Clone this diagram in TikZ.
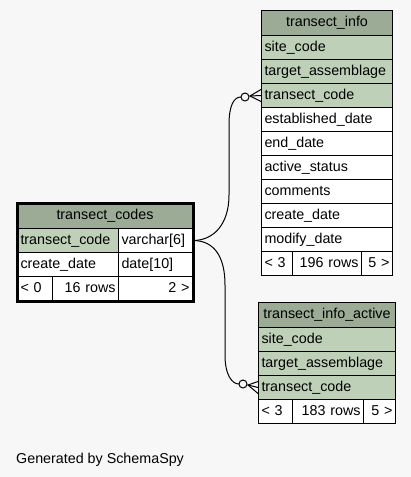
\documentclass[tikz,border=0pt]{standalone}
\usepackage{fontspec}
\setmainfont{Liberation Sans}
\usetikzlibrary{calc}
\definecolor{bg}{HTML}{F7F7F7}
\definecolor{hdr}{HTML}{9BAB96}
\definecolor{keyc}{HTML}{BED1B8}
\begin{document}
\begin{tikzpicture}[x=1pt,y=-1pt,
  cell/.style={draw=black, line width=1pt, anchor=north west, inner xsep=3pt, inner ysep=0pt,
    minimum height=24pt, text height=10pt, text depth=3pt, align=left, fill=white,
    font=\fontsize{14.3}{16}\selectfont},
  head/.style={cell, fill=hdr, align=center, minimum height=25pt},
  keycell/.style={cell, fill=keyc},
  foot/.style={cell, fill=white},
  edge/.style={draw=black, line width=1pt},
]
\fill[bg] (0,0) rectangle (411,477);
\useasboundingbox (0,0) rectangle (411,477);

% transect_info
\node[head, text width=125] (ti-h) at (261,10) {transect\_info};
\node[keycell, text width=125] (ti-sc) at (261,35) {site\_code};
\node[keycell, text width=125] (ti-ta) at (261,59) {target\_assemblage};
\node[keycell, text width=125] (ti-tc) at (261,83) {transect\_code};
\node[cell, text width=125] (ti-ed) at (261,107) {established\_date};
\node[cell, text width=125] (ti-en) at (261,131) {end\_date};
\node[cell, text width=125] (ti-as) at (261,155) {active\_status};
\node[cell, text width=125] (ti-co) at (261,179) {comments};
\node[cell, text width=125] (ti-cd) at (261,203) {create\_date};
\node[cell, text width=125] (ti-md) at (261,227) {modify\_date};
\node[foot, text width=25] (ti-f1) at (261,251) {< 3};
\node[foot, text width=63, align=right] (ti-f2) at (292,251) {196 rows};
\node[foot, text width=25, align=right] (ti-f3) at (361,251) {5 >};

% transect_info_active
\node[head, text width=131] (tia-h) at (258,302) {transect\_info\_active};
\node[keycell, text width=131] (tia-sc) at (258,327) {site\_code};
\node[keycell, text width=131] (tia-ta) at (258,351) {target\_assemblage};
\node[keycell, text width=131] (tia-tc) at (258,375) {transect\_code};
\node[foot, text width=28] (tia-f1) at (258,399) {< 3};
\node[foot, text width=65, align=right] (tia-f2) at (292,399) {183 rows};
\node[foot, text width=26, align=right] (tia-f3) at (363,399) {5 >};

% transect_codes
\node[head, text width=169] (tc-h) at (17,203) {transect\_codes};
\node[keycell, text width=95] (tc-k) at (17,228) {transect\_code};
\node[cell, text width=68] (tc-v) at (118,228) {varchar[6]};
\node[cell, text width=95] (tc-c) at (17,252) {create\_date};
\node[cell, text width=68] (tc-d) at (118,252) {date[10]};
\node[foot, text width=29] (tc-f1) at (17,276) {< 0};
\node[foot, text width=60, align=right] (tc-f2) at (52,276) {16 rows};
\node[foot, text width=68, align=right] (tc-f3) at (118,276) {2 >};
\draw[line width=3pt] (tc-h.north west) rectangle (tc-f3.south east);

% connector to transect_info
\coordinate (o1) at (245,97);
\coordinate (a1) at (250,96);
\draw[edge] (tc-v.east) .. controls +(20,0) and (229,225) .. (229,195) -- (229,125)
  .. controls (229,105) and (234,97) .. (241,97);
\draw[edge] (o1) circle (4pt);
\draw[edge] ($(ti-tc.west)+(0,-6)$) -- (a1) -- ($(ti-tc.west)+(0,6)$);
\draw[edge] (a1) -- (ti-tc.west);

% connector to transect_info_active
\coordinate (o2) at (243,384);
\coordinate (a2) at (248,385);
\draw[edge] (tc-v.east) .. controls +(20,0) and (225,255) .. (225,285) -- (225,355)
  .. controls (225,375) and (232,384) .. (239,384);
\draw[edge] (o2) circle (4pt);
\draw[edge] ($(tia-tc.west)+(0,-6)$) -- (a2) -- ($(tia-tc.west)+(0,6)$);
\draw[edge] (a2) -- (tia-tc.west);

\node[anchor=base west, inner sep=0pt, font=\fontsize{14.3}{16}\selectfont] (gen) at (16,463) {Generated by SchemaSpy};
\end{tikzpicture}
\end{document}
